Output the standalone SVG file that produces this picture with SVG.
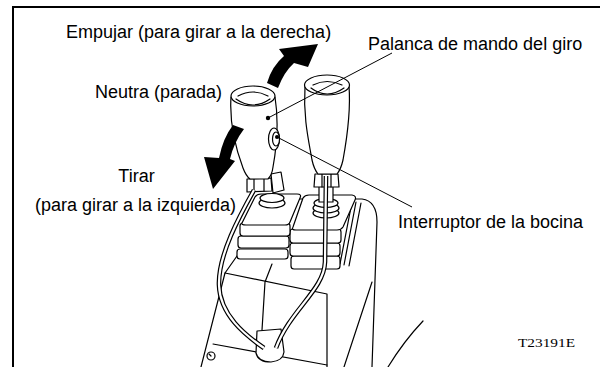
<svg xmlns="http://www.w3.org/2000/svg" width="600" height="367" viewBox="0 0 600 367">
<style>
  .lbl{font-family:"Liberation Sans",Arial,sans-serif;font-size:18px;fill:#000}
  .code{font-family:"Liberation Serif","Times New Roman",serif;font-size:13px;fill:#000}
  .ln{fill:none;stroke:#000;stroke-width:1.2;stroke-linejoin:round;stroke-linecap:round}
  .w{fill:#fff;stroke:#000;stroke-width:1.2;stroke-linejoin:round}
  .tube-o{fill:none;stroke:#000;stroke-width:4.6}
  .tube-i{fill:none;stroke:#fff;stroke-width:2.2}
  .lead{fill:none;stroke:#000;stroke-width:1}
  .arrow{fill:#000;stroke:none}
</style>
<rect width="600" height="367" fill="#fff"/>
<!-- frame -->
<path d="M13,367 V7 H600" fill="none" stroke="#000" stroke-width="2"/>

<!-- console body -->
<g id="console">
  <path class="ln" d="M225,273 L201,367"/>
  <path class="ln" d="M237,256 L225,273 L327,294 L327,367"/>
  <path class="ln" d="M372,282 L344,367"/>
  <path class="ln" d="M300,199 L362,199 Q377,201 377,222 L372,367"/>
  <path class="ln" d="M213,344 L327,365"/>
  <circle class="ln" cx="211" cy="356" r="4"/>
  <path class="ln" d="M209,354 L211,356"/>
  <path class="ln" d="M423,321 Q404,341 388,367"/>
  <path class="ln" stroke-width="1.6" d="M272,264 L265,282 L262,330"/>
</g>

<!-- right lever boot -->
<g id="boot-right">
  <path class="ln" d="M352,202 L340,264 M356,202 L344,265 M361,203 L349,266"/>
  <rect class="w" x="291" y="256" width="49" height="13" rx="3"/>
  <rect class="w" x="290" y="243" width="50" height="13" rx="3"/>
  <rect class="w" x="290" y="229" width="51" height="14" rx="3"/>
  <path class="w" d="M293,227 L303,198 Q305,195 309,195 L352,195 Q357,196 355,200 L343,227 Q341,230 337,230 L296,230 Q291,230 293,227 Z"/>
</g>

<!-- left lever boot -->
<g id="boot-left">
  <rect class="w" x="237" y="249" width="51" height="10" rx="3"/>
  <rect class="w" x="238" y="236" width="51" height="12" rx="3"/>
  <rect class="w" x="240" y="223" width="50" height="13" rx="3"/>
  <path class="w" d="M242,223 L255,197 Q257,194 261,194 L297,194 Q302,194 300,198 L290,222 Q289,225 285,225 L246,225 Q241,225 242,223 Z"/>
</g>

<!-- right lever -->
<g id="lever-right">
  <ellipse class="w" cx="326" cy="213" rx="13" ry="5"/>
  <ellipse class="w" cx="326" cy="208" rx="13" ry="5"/>
  <ellipse class="w" cx="326" cy="203" rx="12" ry="4.5"/>
  <rect class="w" x="319" y="186" width="14" height="16"/>
  <path class="w" d="M315,174 L338,174 L339,187 L314,187 Z"/>
  <path class="ln" d="M322,174 L322,187 M331,174 L331,187"/>
  <path class="w" d="M305,86 C303,118 309,142 312,160 Q314,169 318,174 L337,174 Q341,169 343,160 C347,138 351,112 349,86 Z"/>
  <ellipse class="w" cx="327" cy="85" rx="22.5" ry="10"/>
  <path class="ln" stroke-width="1" d="M311,88 Q327,100 344,88 M313,85 Q327,78 342,85"/>
</g>

<!-- left lever -->
<g id="lever-left">
  <ellipse class="w" cx="272" cy="203" rx="13" ry="5"/>
  <ellipse class="w" cx="272" cy="198" rx="12" ry="4.5"/>
  <path class="w" d="M271,174 L281,172 L284,190 L273,193 Z"/>
  <path class="w" d="M247,179 L271,178 L272,191 L247,192 Z"/>
  <path class="ln" d="M254,179 L254,191 M264,178 L264,191"/>
  <path class="w" d="M231,97 C229,128 237,152 243,168 Q246,176 250,179 L268,179 Q272,175 273,167 C277,145 279,122 275,97 Z"/>
  <ellipse class="w" cx="253" cy="96" rx="22" ry="10"/>
  <path class="ln" stroke-width="1" d="M236,99 Q253,111 270,99 M238,96 Q253,88 268,96"/>
  <ellipse class="w" cx="274" cy="139" rx="5.5" ry="11"/>
  <ellipse class="w" cx="276" cy="139" rx="3.5" ry="7"/>
  <circle cx="277" cy="137" r="2"/>
  <circle cx="268" cy="118" r="2.2"/>
</g>

<!-- cable clamp and horn cables -->
<g id="cables">
  <path class="w" d="M257,331 L281,329 L284,352 Q283,361 271,362 Q258,362 256,353 Z"/>
  <path class="tube-o" d="M254,190 C240,215 218,255 219,285 C220,315 245,335 264,348"/>
  <path class="tube-i" d="M254,190 C240,215 218,255 219,285 C220,315 245,335 264,348"/>
  <path class="tube-o" d="M326,176 L325,262 C324,290 290,310 276,348"/>
  <path class="tube-i" d="M326,176 L325,262 C324,290 290,310 276,348"/>
</g>

<!-- movement arrows -->
<g id="arrows">
  <path class="arrow" d="M267,83 Q272,66 284,56 L279,49 L318,44 L308,67 L294,63 Q284,72 278,88 Z"/>
  <path class="arrow" d="M233,125 L244,129 Q234,142 230,159 L235,161 L213,189 L204,157 L219,158 Q223,138 233,125 Z"/>
</g>

<!-- leader lines -->
<g id="leaders">
  <path class="lead" d="M268,118 L392,53"/>
  <path class="lead" d="M277,137 L412,207"/>
</g>

<!-- labels -->
<g id="labels">
  <text class="lbl" x="66" y="38">Empujar (para girar a la derecha)</text>
  <text class="lbl" x="368" y="49.5">Palanca de mando del giro</text>
  <text class="lbl" x="95" y="98">Neutra (parada)</text>
  <text class="lbl" x="136.5" y="181.5" text-anchor="middle">Tirar</text>
  <text class="lbl" x="35" y="210.5">(para girar a la izquierda)</text>
  <text class="lbl" x="398" y="227.5">Interruptor de la bocina</text>
  <text class="code" x="518" y="346.5" textLength="57" lengthAdjust="spacingAndGlyphs">T23191E</text>
</g>
</svg>
